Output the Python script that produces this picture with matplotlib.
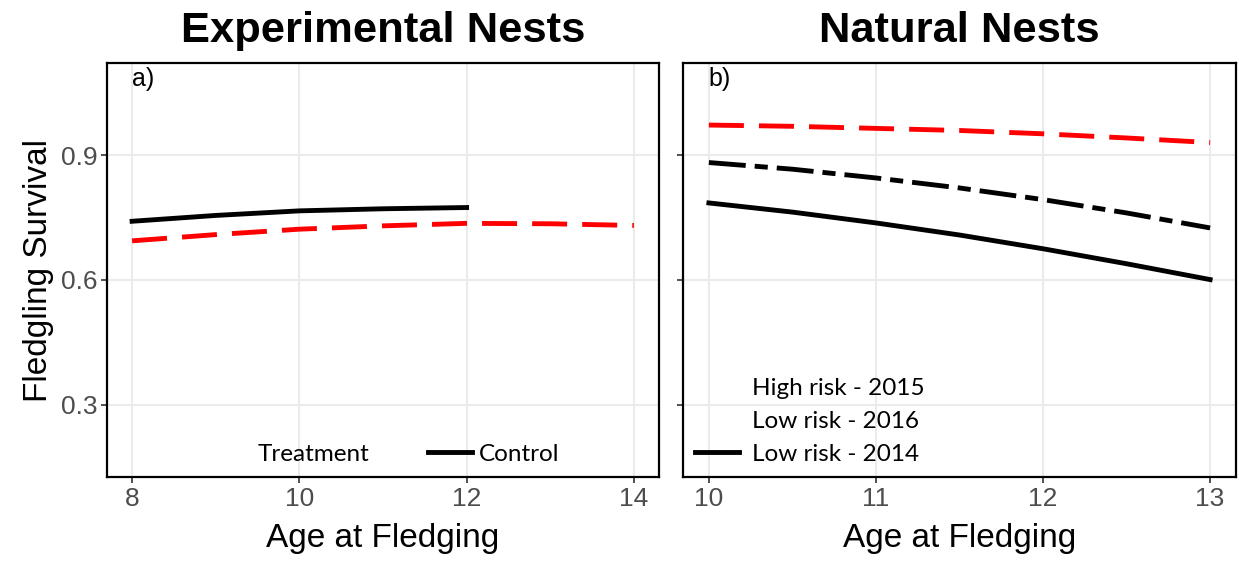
import matplotlib
matplotlib.use("Agg")
import matplotlib.pyplot as plt
from matplotlib.lines import Line2D

# ---- data ----
exp_age_control = [8, 9, 10, 11, 12]
exp_control = [0.741, 0.755, 0.766, 0.771, 0.774]
exp_age_treat = [8, 9, 10, 11, 12, 13, 14]
exp_treat = [0.694, 0.709, 0.722, 0.730, 0.736, 0.735, 0.731]

nat_age = [10, 10.5, 11, 11.5, 12, 12.5, 13]
nat_high2015 = [0.972, 0.969, 0.964, 0.959, 0.951, 0.941, 0.930]
nat_low2016 = [0.882, 0.866, 0.845, 0.821, 0.793, 0.761, 0.725]
nat_low2014 = [0.785, 0.763, 0.737, 0.708, 0.675, 0.639, 0.601]

yticks = [0.3, 0.6, 0.9]
ytick_labels = ["0.3", "0.6", "0.9"]
exp_xticks = [8, 10, 12, 14]
nat_xticks = [10, 11, 12, 13]

W, H = 1239, 562
fig = plt.figure(figsize=(W / 100, H / 100), dpi=100)

def px_axes(x0, x1, y0, y1):
    return fig.add_axes([x0 / W, 1 - y1 / H, (x1 - x0) / W, (y1 - y0) / H])

axL = px_axes(107, 659, 63, 477)
axR = px_axes(683, 1236, 63, 477)

tick_font = dict(family="Liberation Sans", size=19, color="#4D4D4D")
lab_font = dict(family="Liberation Sans", size=24)
title_font = dict(family="Liberation Sans", weight="bold", size=31.3)
leg_family = "Lato"
leg_size = 17.5
LW = 3.5

for ax in (axL, axR):
    ax.set_ylim(0.127, 1.121)
    ax.set_yticks(yticks)
    ax.grid(True, color="#EBEBEB", lw=1.5)
    ax.set_axisbelow(True)
    for s in ax.spines.values():
        s.set_linewidth(1.6)
        s.set_color("black")
    ax.tick_params(length=4, width=1.2, color="#333333", pad=3)

red_dash = (0, (7.2, 3.1))
dashdot = (0, (7.6, 1.85, 2.7, 1.85))

# Left panel
axL.plot(exp_age_treat, exp_treat, color="red", lw=LW, linestyle=red_dash)
axL.plot(exp_age_control, exp_control, color="black", lw=LW)
axL.set_xlim(7.7, 14.3)
axL.set_xticks(exp_xticks)
axL.set_xticklabels([str(v) for v in exp_xticks], **tick_font)
axL.set_yticklabels(ytick_labels, **tick_font)
axL.set_xlabel("Age at Fledging", **lab_font, labelpad=9)
axL.set_ylabel("Fledgling Survival", **lab_font, labelpad=5)
axL.set_title("Experimental Nests", **title_font, pad=15)
axL.text(8, 1.083, "a)", family="Liberation Sans", size=18, ha="left", va="center")
hL = [Line2D([], [], color="none", lw=LW), Line2D([], [], color="black", lw=LW)]
axL.legend(hL, ["Treatment", "Control"], ncol=2, loc="lower center",
           bbox_to_anchor=(0.5, 0.0), frameon=False,
           prop=dict(family=leg_family, size=leg_size), handlelength=1.8,
           handletextpad=0.3, columnspacing=2.4, borderaxespad=0.1)

# Right panel
axR.plot(nat_age, nat_high2015, color="red", lw=LW, linestyle=red_dash)
axR.plot(nat_age, nat_low2016, color="black", lw=LW, linestyle=dashdot)
axR.plot(nat_age, nat_low2014, color="black", lw=LW)
axR.set_xlim(9.845, 13.155)
axR.set_xticks(nat_xticks)
axR.set_xticklabels([str(v) for v in nat_xticks], **tick_font)
axR.set_yticklabels([])
axR.set_xlabel("Age at Fledging", **lab_font, labelpad=9)
axR.set_title("Natural Nests", **title_font, pad=15)
axR.text(10, 1.083, "b)", family="Liberation Sans", size=18, ha="left", va="center")
hR = [Line2D([], [], color="none", lw=LW), Line2D([], [], color="none", lw=LW),
      Line2D([], [], color="black", lw=LW)]
axR.legend(hR, ["High risk - 2015", "Low risk - 2016", "Low risk - 2014"],
           loc="lower left", bbox_to_anchor=(0.0, 0.0), frameon=False,
           prop=dict(family=leg_family, size=leg_size), handlelength=1.8,
           handletextpad=0.55, labelspacing=0.5, borderaxespad=0.1)

fig.savefig("out.png", dpi=100)
